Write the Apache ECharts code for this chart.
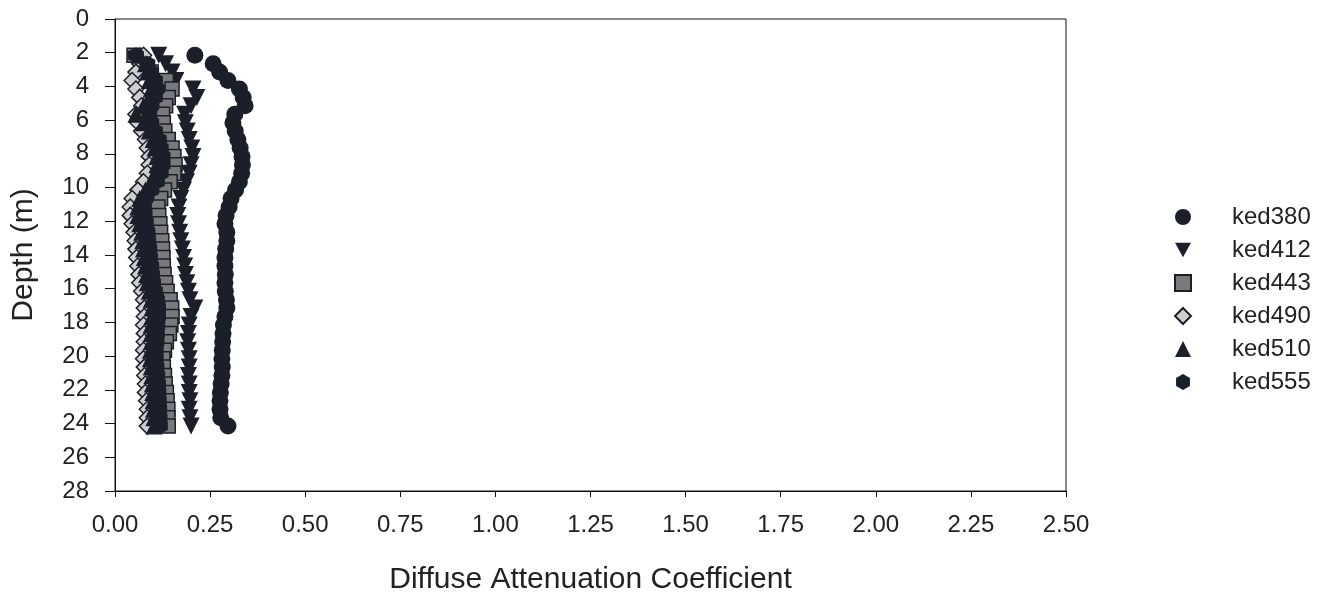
<!DOCTYPE html>
<html>
<head>
<meta charset="utf-8">
<title>Diffuse attenuation profiles</title>
<script src="https://cdn.jsdelivr.net/npm/echarts@6/dist/echarts.min.js"></script>
<style>
  html, body { margin: 0; padding: 0; background: #ffffff; }
  #chart { width: 1321px; height: 595px; }
</style>
</head>
<body>
<div id="chart"></div>
<script>
// Sampling depths (m), shared by every wavelength profile
const depth = [
  2.15, 2.65, 3.15, 3.65, 4.15, 4.65, 5.15, 5.65, 6.15, 6.65,
  7.15, 7.65, 8.15, 8.65, 9.15, 9.65, 10.15, 10.65, 11.15, 11.65,
  12.15, 12.65, 13.15, 13.65, 14.15, 14.65, 15.15, 15.65, 16.15, 16.65,
  17.15, 17.65, 18.15, 18.65, 19.15, 19.65, 20.15, 20.65, 21.15, 21.65,
  22.15, 22.65, 23.15, 23.65, 24.15
];

// Diffuse attenuation coefficient per wavelength
const ked380 = [
  0.210, 0.258, 0.275, 0.297, 0.327, 0.337, 0.342, 0.315, 0.310, 0.316,
  0.323, 0.329, 0.334, 0.335, 0.333, 0.327, 0.317, 0.305, 0.300, 0.292,
  0.289, 0.294, 0.294, 0.291, 0.289, 0.289, 0.290, 0.289, 0.290, 0.293,
  0.294, 0.289, 0.285, 0.284, 0.283, 0.282, 0.281, 0.282, 0.281, 0.279,
  0.277, 0.276, 0.276, 0.278, 0.297
];
const ked412 = [
  0.115, 0.133, 0.150, 0.160, 0.205, 0.215, 0.200, 0.183, 0.185, 0.190,
  0.195, 0.202, 0.205, 0.200, 0.195, 0.188, 0.180, 0.173, 0.168, 0.165,
  0.167, 0.170, 0.173, 0.177, 0.180, 0.183, 0.185, 0.189, 0.193, 0.197,
  0.210, 0.200, 0.195, 0.193, 0.191, 0.193, 0.195, 0.195, 0.193, 0.195,
  0.195, 0.197, 0.195, 0.197, 0.200
];
const ked443 = [
  0.050, 0.075, 0.095, 0.135, 0.150, 0.140, 0.133, 0.125, 0.127, 0.131,
  0.140, 0.150, 0.155, 0.158, 0.155, 0.145, 0.130, 0.120, 0.113, 0.115,
  0.118, 0.120, 0.123, 0.125, 0.126, 0.127, 0.129, 0.133, 0.137, 0.145,
  0.149, 0.150, 0.147, 0.143, 0.135, 0.130, 0.126, 0.127, 0.130, 0.132,
  0.135, 0.137, 0.139, 0.139, 0.140
];
const ked490 = [
  0.075, 0.065, 0.055, 0.045, 0.055, 0.065, 0.070, 0.055, 0.060, 0.070,
  0.080, 0.085, 0.090, 0.090, 0.085, 0.075, 0.060, 0.045, 0.040, 0.040,
  0.045, 0.050, 0.053, 0.055, 0.057, 0.060, 0.063, 0.065, 0.070, 0.075,
  0.077, 0.077, 0.075, 0.077, 0.077, 0.075, 0.075, 0.077, 0.078, 0.080,
  0.080, 0.083, 0.085, 0.085, 0.085
];
const ked510 = [
  0.065, 0.080, 0.085, 0.090, 0.095, 0.090, 0.075, 0.055, 0.075, 0.090,
  0.100, 0.105, 0.110, 0.110, 0.105, 0.095, 0.080, 0.065, 0.060, 0.060,
  0.065, 0.070, 0.073, 0.075, 0.077, 0.080, 0.083, 0.085, 0.090, 0.095,
  0.097, 0.097, 0.095, 0.095, 0.095, 0.093, 0.093, 0.095, 0.097, 0.098,
  0.099, 0.100, 0.101, 0.102, 0.103
];
const ked555 = [
  0.055, 0.085, 0.095, 0.105, 0.110, 0.105, 0.095, 0.090, 0.095, 0.105,
  0.115, 0.120, 0.125, 0.125, 0.120, 0.110, 0.095, 0.080, 0.075, 0.075,
  0.080, 0.085, 0.087, 0.090, 0.092, 0.095, 0.097, 0.100, 0.105, 0.110,
  0.113, 0.113, 0.111, 0.110, 0.109, 0.107, 0.107, 0.109, 0.111, 0.113,
  0.114, 0.115, 0.116, 0.117, 0.118
];

const seriesNames = ['ked380', 'ked412', 'ked443', 'ked490', 'ked510', 'ked555'];
const seriesValues = [ked380, ked412, ked443, ked490, ked510, ked555];

// Axis tick values
const xTicks = [0.00, 0.25, 0.50, 0.75, 1.00, 1.25, 1.50, 1.75, 2.00, 2.25, 2.50];
const yTicks = [0, 2, 4, 6, 8, 10, 12, 14, 16, 18, 20, 22, 24, 26, 28];

const INK = '#1b1f2a';
const FONT = 'Liberation Sans, Arial, Helvetica, sans-serif';
const HEX = 'path://M0,-1 L0.866,-0.5 L0.866,0.5 L0,1 L-0.866,0.5 L-0.866,-0.5 Z';
const TRI_DOWN = 'path://M0,0 L2,0 L1,1.8 Z';

const markerStyles = {
  ked380: { symbol: 'circle', size: 17, item: { color: INK, opacity: 1 } },
  ked412: { symbol: TRI_DOWN, size: 17, item: { color: INK, opacity: 1 } },
  ked443: { symbol: 'rect', size: 14, item: { color: '#7a7a7c', borderColor: INK, borderWidth: 1.5, opacity: 1 } },
  ked490: { symbol: 'diamond', size: 16, item: { color: '#cfcfcf', borderColor: INK, borderWidth: 1.5, opacity: 1 } },
  ked510: { symbol: 'triangle', size: 17, item: { color: INK, opacity: 1 } },
  ked555: { symbol: HEX, size: 16, item: { color: INK, opacity: 1 } }
};

const series = seriesNames.map(function (name, i) {
  const st = markerStyles[name];
  return {
    name: name,
    type: 'scatter',
    symbol: st.symbol,
    symbolSize: st.size,
    itemStyle: st.item,
    emphasis: { disabled: true },
    animation: false,
    data: seriesValues[i].map(function (v, j) { return [v, depth[j]]; })
  };
});

const legendData = seriesNames.map(function (name) {
  return { name: name, icon: markerStyles[name].symbol };
});

const chart = echarts.init(document.getElementById('chart'), null, { renderer: 'canvas' });

chart.setOption({
  backgroundColor: '#ffffff',
  animation: false,
  grid: {
    left: 115, top: 19, width: 951, height: 472,
    containLabel: false,
    outerBoundsMode: 'none',
    show: true, borderColor: '#111', borderWidth: 1, backgroundColor: 'transparent'
  },
  legend: {
    orient: 'vertical',
    left: 1169,
    top: 200,
    itemWidth: 16,
    itemHeight: 16,
    itemGap: 9,
    selectedMode: false,
    data: legendData,
    textStyle: { fontFamily: FONT, fontSize: 24, color: '#222', padding: [0, 0, 0, 36] }
  },
  xAxis: {
    type: 'value',
    min: xTicks[0],
    max: xTicks[xTicks.length - 1],
    interval: 0.25,
    name: 'Diffuse Attenuation Coefficient',
    nameLocation: 'middle',
    nameGap: 74,
    nameTextStyle: { fontFamily: FONT, fontSize: 30, color: '#222' },
    axisLine: { show: true, onZero: false, lineStyle: { color: '#111', width: 1 } },
    axisTick: { show: true, inside: false, length: 6, lineStyle: { color: '#111' } },
    axisLabel: {
      margin: 22, fontFamily: FONT, fontSize: 24, color: '#222',
      formatter: function (v) { return v.toFixed(2); }
    },
    splitLine: { show: false }
  },
  yAxis: {
    type: 'value',
    inverse: true,
    min: yTicks[0],
    max: yTicks[yTicks.length - 1],
    interval: 2,
    name: 'Depth (m)',
    nameLocation: 'middle',
    nameGap: 76,
    nameRotate: 90,
    nameTextStyle: { fontFamily: FONT, fontSize: 30, color: '#222' },
    axisLine: { show: true, onZero: false, lineStyle: { color: '#111', width: 1 } },
    axisTick: { show: true, inside: false, length: 10, lineStyle: { color: '#111' } },
    axisLabel: { margin: 26, fontFamily: FONT, fontSize: 24, color: '#222' },
    splitLine: { show: false }
  },
  series: series
});
</script>
</body>
</html>
